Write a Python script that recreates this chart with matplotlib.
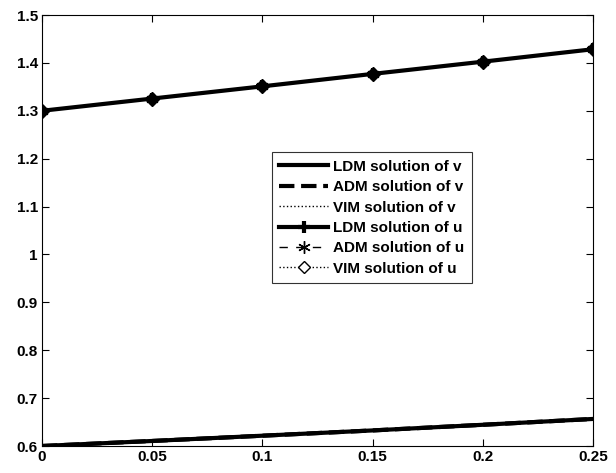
import numpy as np
import matplotlib.pyplot as plt

t = [0, 0.05, 0.1, 0.15, 0.2, 0.25]
v_ldm = [0.600, 0.6105, 0.6215, 0.6325, 0.6443, 0.6565]
v_adm = [0.600, 0.6105, 0.6215, 0.6325, 0.6443, 0.6565]
v_vim = [0.600, 0.6105, 0.6215, 0.6325, 0.6443, 0.6565]
u_ldm = [1.300, 1.3255, 1.3510, 1.3770, 1.4025, 1.4285]
u_adm = [1.300, 1.3255, 1.3510, 1.3770, 1.4025, 1.4285]
u_vim = [1.300, 1.3255, 1.3510, 1.3770, 1.4025, 1.4285]

plt.rcParams['font.family'] = ['Liberation Sans', 'DejaVu Sans']
plt.rcParams['font.weight'] = 'bold'

fig = plt.figure(figsize=(6.16, 4.73), dpi=100)
ax = fig.add_axes([42 / 616, 1 - 446 / 473, (593 - 42) / 616, (446 - 15) / 473])

ax.plot(t, v_ldm, 'k-', lw=3, label='LDM solution of v')
ax.plot(t, v_adm, 'k--', lw=3, label='ADM solution of v')
ax.plot(t, v_vim, 'k:', lw=1, label='VIM solution of v')
ax.plot(t, u_ldm, 'k-', lw=3, marker='+', ms=8, mew=3, label='LDM solution of u')
ax.plot(t, u_adm, 'k--', lw=1, marker=(6, 2, 0), ms=9, mew=1, label='ADM solution of u',
        dashes=(6, 6))
ax.plot(t, u_vim, 'k:', lw=1, marker='D', ms=7, mew=1, mfc='k', label='VIM solution of u')

ax.set_xlim(0, 0.25)
ax.set_ylim(0.6, 1.5)
ax.set_xticks([0, 0.05, 0.1, 0.15, 0.2, 0.25])
ax.set_xticklabels(['0', '0.05', '0.1', '0.15', '0.2', '0.25'])
ax.set_yticks(np.arange(0.6, 1.51, 0.1))
ax.set_yticklabels(['0.6', '0.7', '0.8', '0.9', '1', '1.1', '1.2', '1.3', '1.4', '1.5'])
ax.tick_params(direction='in', top=True, right=True, labelsize=11, length=5, pad=3)
for s in ax.spines.values():
    s.set_linewidth(0.8)

leg = ax.legend(loc='upper left', bbox_to_anchor=(0.417, 0.682), fontsize=11,
                frameon=True, fancybox=False, edgecolor='k', handlelength=3.2,
                borderpad=0.5, labelspacing=0.42, handletextpad=0.3, borderaxespad=0)
leg.get_frame().set_linewidth(0.8)
# open diamond in legend like the reference
leg.legend_handles[5].set_markerfacecolor('white')
leg.legend_handles[5].set_markersize(6)

fig.savefig('out.png', dpi=100)
